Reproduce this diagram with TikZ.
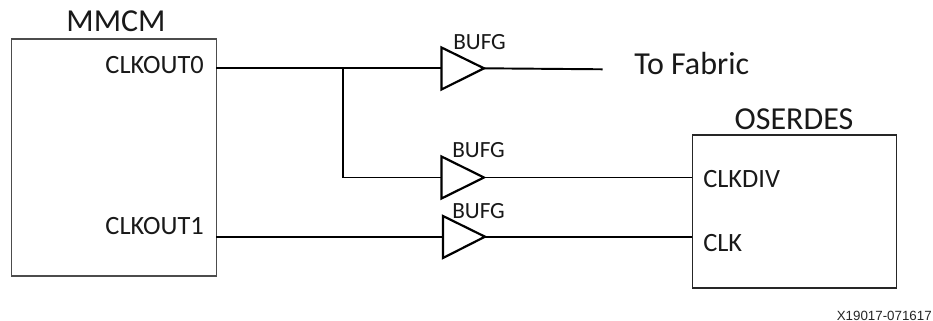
\documentclass[tikz,border=0pt]{standalone}
\usepackage{fontspec}
\setmainfont{Carlito}
\newfontfamily\arialf{Liberation Sans}
\begin{document}
\begin{tikzpicture}[x=0.75pt,y=-0.75pt,
  boxs/.style={draw=black!70,line width=0.9pt,fill=white,inner sep=0pt},
  wire/.style={draw=black,line width=1.45pt},
  buf/.style={draw=black,line width=1.65pt,fill=white,miter limit=4},
  lab/.style={inner sep=0pt,font=\fontsize{19.8}{20}\selectfont,text=black!90},
  tit/.style={inner sep=0pt,font=\fontsize{24}{24}\selectfont,text=black!90},
  bufl/.style={inner sep=0pt,font=\fontsize{17.4}{18}\selectfont,text=black!90}]
\useasboundingbox (0,0) rectangle (933,321);
\fill[white] (0,0) rectangle (933,321);
\node[boxs,minimum width=153.5pt,minimum height=177.75pt] (mmcm) at (114,157.5) {};
\node[boxs,draw=black!85,minimum width=153pt,minimum height=114.75pt] (os) at (794.2,211.5) {};
\coordinate (o0) at (216.3,68.3);
\coordinate (o1) at (216.3,236.7);
\coordinate (j) at (343.3,68.3);
\coordinate (b1in) at (441,68.3);
\coordinate (b2in) at (441,177.5);
\coordinate (b3in) at (442.3,236.7);
\coordinate (fab) at (602.7,69.3);
\coordinate (cd) at (692.3,177.5);
\coordinate (ck) at (692.3,236.7);
\coordinate (b1out) at (484,68.3);
\coordinate (b2out) at (484,177.5);
\coordinate (b3out) at (485,236.7);
\draw[wire] (o0) -- (b1in);
\draw[wire] (j) |- (b2in);
\draw[wire] (o1) -- (b3in);
\draw[wire] (b1out) -- (fab);
\draw[wire] (b2out) -- (cd);
\draw[wire] (b3out) -- (ck);
\draw[buf] (441.5,47.5) -- (b1out) -- (441.5,89.5) -- cycle;
\draw[buf] (441.5,156.5) -- (b2out) -- (441.5,198.5) -- cycle;
\draw[buf] (443,216) -- (b3out) -- (443,258) -- cycle;
\node[tit,anchor=base] (t1) at (116,32) {MMCM};
\node[tit,anchor=base] (t2) at (794,129.5) {OSERDES};
\node[lab,anchor=base east] (l1) at (204,74) {CLKOUT0};
\node[lab,anchor=base east] (l2) at (204,234) {CLKOUT1};
\node[lab,anchor=base west] (l3) at (703,188) {CLKDIV};
\node[lab,anchor=base west] (l4) at (703,252) {CLK};
\node[bufl,anchor=base west] (b1) at (453,50) {BUFG};
\node[bufl,anchor=base west] (b2) at (452,157.5) {BUFG};
\node[bufl,anchor=base west] (b3) at (452,218.5) {BUFG};
\node[tit,anchor=base west] (f) at (634,75) {To Fabric};
\node[inner sep=0pt,anchor=base east,font=\arialf\fontsize{10}{10}\selectfont,text=black!85] (x) at (932,320) {X19017-071617};
\end{tikzpicture}
\end{document}
